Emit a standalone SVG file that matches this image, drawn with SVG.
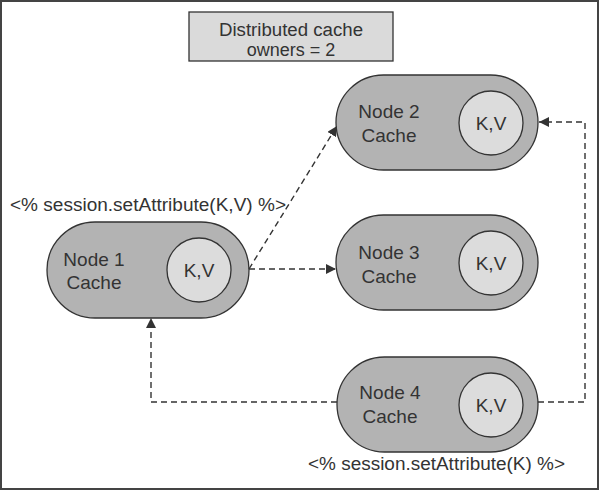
<svg xmlns="http://www.w3.org/2000/svg" width="600" height="491" viewBox="0 0 600 491">
<style>
text{font-family:"Liberation Sans","DejaVu Sans",Arial,sans-serif;fill:#333;font-size:18px}
.n{font-size:19px}
.pill{fill:#b3b3b3;stroke:#333;stroke-width:1.3}
.kv{fill:#dcdcdc;stroke:#333;stroke-width:1.3}
.c{text-anchor:middle}
.conn{fill:none;stroke:#333;stroke-width:1.4;stroke-dasharray:6 4}
</style>
<defs>
<marker id="arr" viewBox="0 0 10 10" refX="10" refY="5" markerWidth="10" markerHeight="10" markerUnits="userSpaceOnUse" orient="auto">
<path d="M0,0 L10,5 L0,10 Z" fill="#333"/>
</marker>
</defs>
<rect x="1" y="1" width="597" height="488" fill="#fff" stroke="#444" stroke-width="2"/>
<g id="title">
<rect x="189" y="12" width="204" height="49" fill="#dadada" stroke="#333" stroke-width="1.3"/>
<text x="291" y="36" class="c" textLength="144" lengthAdjust="spacingAndGlyphs">Distributed cache</text>
<text x="291" y="56" class="c">owners = 2</text>
</g>
<g id="node1">
<rect class="pill" x="47" y="222" width="202" height="96" rx="48"/>
<circle class="kv" cx="199" cy="270" r="32"/>
<text x="94" y="266" class="c n">Node 1</text>
<text x="94" y="289" class="c n">Cache</text>
<text x="199" y="277" class="c n">K,V</text>
</g>
<g id="node2">
<rect class="pill" x="336" y="75" width="202" height="95" rx="47.5"/>
<circle class="kv" cx="491" cy="123" r="32"/>
<text x="389" y="118" class="c n">Node 2</text>
<text x="389" y="142" class="c n">Cache</text>
<text x="491" y="130" class="c n">K,V</text>
</g>
<g id="node3">
<rect class="pill" x="336" y="215" width="202" height="95" rx="47.5"/>
<circle class="kv" cx="491" cy="263" r="32"/>
<text x="389" y="259" class="c n">Node 3</text>
<text x="389" y="283" class="c n">Cache</text>
<text x="491" y="270" class="c n">K,V</text>
</g>
<g id="node4">
<rect class="pill" x="337" y="357" width="201" height="95" rx="47.5"/>
<circle class="kv" cx="491" cy="405" r="32"/>
<text x="390" y="399" class="c n">Node 4</text>
<text x="390" y="423" class="c n">Cache</text>
<text x="491" y="412" class="c n">K,V</text>
</g>
<g id="connectors">
<path class="conn" d="M249,269 L337,126" marker-end="url(#arr)"/>
<path class="conn" d="M249,269 L336,269" marker-end="url(#arr)"/>
<path class="conn" d="M337,402 L151,402 L151,318" marker-end="url(#arr)"/>
<path class="conn" d="M538,402 L585,402 L585,122 L539,122" marker-end="url(#arr)"/>
</g>
<g id="labels">
<text x="10" y="211" textLength="276" lengthAdjust="spacingAndGlyphs">&lt;% session.setAttribute(K,V) %&gt;</text>
<text x="308" y="470" textLength="257" lengthAdjust="spacingAndGlyphs">&lt;% session.setAttribute(K) %&gt;</text>
</g>
</svg>
